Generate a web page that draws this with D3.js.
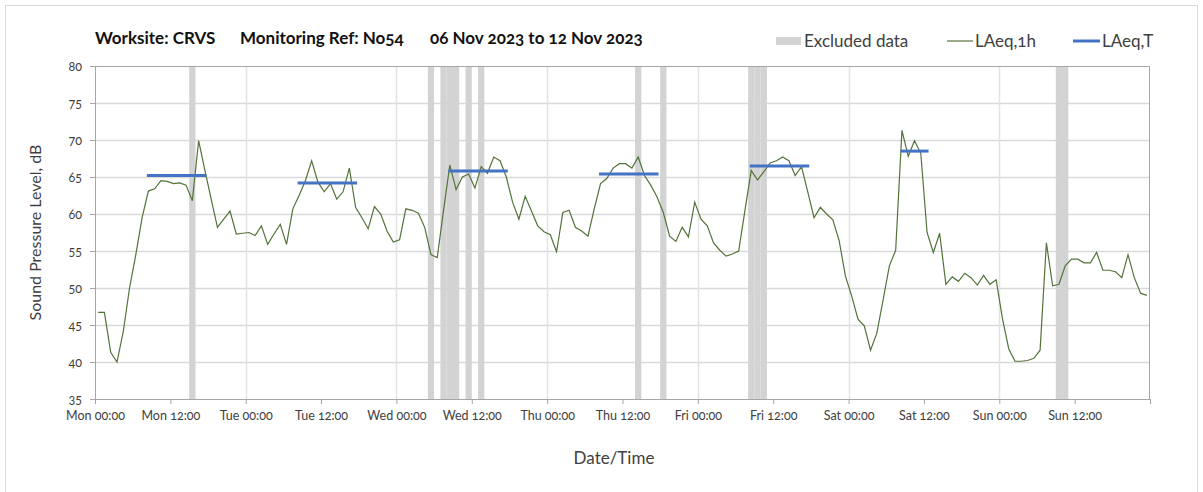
<!DOCTYPE html>
<html>
<head>
<meta charset="utf-8">
<script src="https://d3js.org/d3.v7.min.js"></script>
<style>
    body { margin: 0; background: #fff; }
    text { font-family: Lato, "Open Sans", sans-serif; font-variant-numeric: oldstyle-nums; }
    .axis text { font-size: 12.5px; fill: #404040; }
    .axis path, .axis line { stroke: #a6a6a6; }
</style>
</head>
<body>
<div id="chart"></div>
<script>
// hourly LAeq,1h values, Mon 00:00 .. Sun 23:00
var laeq1h = [
    46.7, 46.7, 41.3, 40.0, 44.1, 50.0, 54.5, 59.5, 63.1, 63.4, 64.5, 64.4,
    64.1, 64.2, 63.9, 61.8, 69.9, 65.9, 62.0, 58.2, 59.3, 60.4, 57.3, 57.4,
    57.5, 57.1, 58.4, 55.9, 57.3, 58.6, 55.9, 60.7, 62.5, 64.5, 67.2, 64.3,
    63.0, 64.1, 62.0, 63.0, 66.2, 60.9, 59.5, 58.0, 61.0, 60.0, 57.7, 56.2,
    56.5, 60.7, 60.5, 60.1, 58.2, 54.5, 54.1, 60.5, 66.6, 63.3, 65.0, 65.4,
    63.5, 66.4, 65.5, 67.7, 67.2, 65.0, 61.6, 59.3, 62.4, 60.4, 58.4, 57.6,
    57.2, 54.9, 60.2, 60.5, 58.2, 57.7, 57.0, 60.7, 64.1, 64.8, 66.2, 66.8,
    66.8, 66.2, 67.7, 65.2, 63.9, 62.3, 60.2, 57.0, 56.3, 58.2, 56.9, 61.6,
    59.3, 58.4, 56.1, 55.1, 54.3, 54.6, 55.0, 60.5, 65.9, 64.6, 65.7, 66.9,
    67.2, 67.7, 67.2, 65.2, 66.4, 63.0, 59.5, 60.9, 60.0, 59.2, 56.4, 51.6,
    48.9, 45.8, 44.9, 41.6, 43.9, 48.4, 53.0, 55.1, 71.3, 67.8, 69.9, 68.2,
    57.5, 54.8, 57.4, 50.5, 51.5, 50.9, 52.0, 51.4, 50.4, 51.7, 50.5, 51.1,
    45.9, 41.8, 40.1, 40.1, 40.2, 40.5, 41.6, 56.1, 50.3, 50.5, 53.0, 53.9,
    53.9, 53.4, 53.4, 54.8, 52.4, 52.4, 52.2, 51.4, 54.5, 51.4, 49.3, 49.0
];

// hours flagged as excluded data
var excludedHours = [15, 53, 55, 56, 57, 59, 61, 86, 90, 104, 105, 106, 153, 154];

// LAeq,T daytime periods (first hour, last hour, level)
var periodStart = [8, 32, 56, 80, 104, 128];
var periodEnd = [17, 41, 65, 89, 113, 132];
var periodLevel = [65.2, 64.2, 65.8, 65.4, 66.5, 68.5];

var dayNames = ["Mon", "Tue", "Wed", "Thu", "Fri", "Sat", "Sun"];
var yTicks = [35, 40, 45, 50, 55, 60, 65, 70, 75, 80];

var W = 1203, H = 492;
var margin = { top: 66, right: 53, bottom: 93, left: 95 },
    width = W - margin.left - margin.right,
    height = H - margin.top - margin.bottom;

var svg = d3.select("#chart").append("svg")
    .attr("width", W)
    .attr("height", H);

// outer chart border
svg.append("rect")
    .attr("x", 5.5).attr("y", 5.5)
    .attr("width", W - 11).attr("height", H)
    .attr("fill", "none")
    .attr("stroke", "#d9d9d9");

var g = svg.append("g")
    .attr("transform", "translate(" + margin.left + "," + margin.top + ")");

var x = d3.scaleLinear().domain([0, 168]).range([0, width]);
var y = d3.scaleLinear().domain([35, 80]).range([height, 0]);

// horizontal gridlines
g.append("g").selectAll("line")
    .data(yTicks.slice(1, -1))
    .enter().append("line")
    .attr("x1", 0).attr("x2", width)
    .attr("y1", function (d) { return Math.round(y(d)) + 0.5; })
    .attr("y2", function (d) { return Math.round(y(d)) + 0.5; })
    .attr("stroke", "#d9d9d9")
    .attr("stroke-width", 1.5);

// vertical gridlines at midnight
g.append("g").selectAll("line")
    .data(d3.range(24, 168, 24))
    .enter().append("line")
    .attr("y1", 0).attr("y2", height)
    .attr("x1", function (d) { return Math.round(x(d)) + 0.5; })
    .attr("x2", function (d) { return Math.round(x(d)) + 0.5; })
    .attr("stroke", "#e3e3e3")
    .attr("stroke-width", 1.5);

// excluded data bands
g.append("g").selectAll("rect")
    .data(excludedHours)
    .enter().append("rect")
    .attr("x", function (d) { return x(d); })
    .attr("width", function (d) { return x(d + 1) - x(d); })
    .attr("y", 0)
    .attr("height", height)
    .attr("fill", "#d3d3d3");

// plot border (top / right)
g.append("path")
    .attr("d", "M0,0.5H" + (width - 0.5) + "V" + height)
    .attr("fill", "none")
    .attr("stroke", "#a6a6a6");

// x axis
var xAxis = d3.axisBottom(x)
    .tickValues(d3.range(0, 169, 12))
    .tickSizeInner(5)
    .tickSizeOuter(0)
    .tickFormat(function (d) {
        if (d >= 168) return "";
        return dayNames[Math.floor(d / 24)] + " " + (d % 24 === 0 ? "00:00" : "12:00");
    });

g.append("g")
    .attr("class", "x axis")
    .attr("transform", "translate(0," + height + ")")
    .call(xAxis)
    .selectAll("text").attr("dy", "1.05em");

// y axis
var yAxis = d3.axisLeft(y)
    .tickValues(yTicks)
    .tickSizeInner(5)
    .tickSizeOuter(0)
    .tickPadding(8);

g.append("g")
    .attr("class", "y axis")
    .call(yAxis);

// LAeq,1h line
var line = d3.line()
    .x(function (d, i) { return x(i + 0.5); })
    .y(function (d) { return y(d); });

g.append("path")
    .datum(laeq1h)
    .attr("d", line)
    .attr("fill", "none")
    .attr("stroke", "#54733a")
    .attr("stroke-width", 1.2);

// LAeq,T period lines
g.append("g").selectAll("line")
    .data(periodLevel)
    .enter().append("line")
    .attr("x1", function (d, i) { return x(periodStart[i] + 0.5); })
    .attr("x2", function (d, i) { return x(periodEnd[i] + 0.5); })
    .attr("y1", function (d) { return y(d); })
    .attr("y2", function (d) { return y(d); })
    .attr("stroke", "#4472c4")
    .attr("stroke-width", 3)
    .attr("stroke-linecap", "square");

// axis titles
svg.append("text")
    .attr("transform", "translate(41," + (margin.top + height / 2) + ") rotate(-90)")
    .style("text-anchor", "middle")
    .style("font-size", "16px")
    .attr("fill", "#404040")
    .text("Sound Pressure Level, dB");

svg.append("text")
    .attr("x", 614)
    .attr("y", 464)
    .style("text-anchor", "middle")
    .style("font-size", "17px")
    .attr("fill", "#404040")
    .text("Date/Time");

// title
var titleParts = [
    { x: 95, t: "Worksite: CRVS" },
    { x: 240, t: "Monitoring Ref: No54" },
    { x: 430, t: "06 Nov 2023 to 12 Nov 2023" }
];
svg.append("g").selectAll("text")
    .data(titleParts)
    .enter().append("text")
    .attr("x", function (d) { return d.x; })
    .attr("y", 44)
    .style("font-size", "17px")
    .style("font-weight", "bold")
    .attr("fill", "#111")
    .text(function (d) { return d.t; });

// legend
var legend = svg.append("g").attr("transform", "translate(0,41)");
legend.append("rect")
    .attr("x", 776).attr("y", -4)
    .attr("width", 25).attr("height", 8)
    .attr("fill", "#d3d3d3");
legend.append("text")
    .attr("x", 804).attr("dy", "0.35em")
    .style("font-size", "17px").attr("fill", "#404040")
    .text("Excluded data");
legend.append("line")
    .attr("x1", 947).attr("x2", 973)
    .attr("stroke", "#54733a").attr("stroke-width", 1.2);
legend.append("text")
    .attr("x", 975).attr("dy", "0.35em")
    .style("font-size", "17px").attr("fill", "#404040")
    .text("LAeq,1h");
legend.append("line")
    .attr("x1", 1073).attr("x2", 1100)
    .attr("stroke", "#4472c4").attr("stroke-width", 3);
legend.append("text")
    .attr("x", 1102).attr("dy", "0.35em")
    .style("font-size", "17px").attr("fill", "#404040")
    .text("LAeq,T");
</script>
</body>
</html>
